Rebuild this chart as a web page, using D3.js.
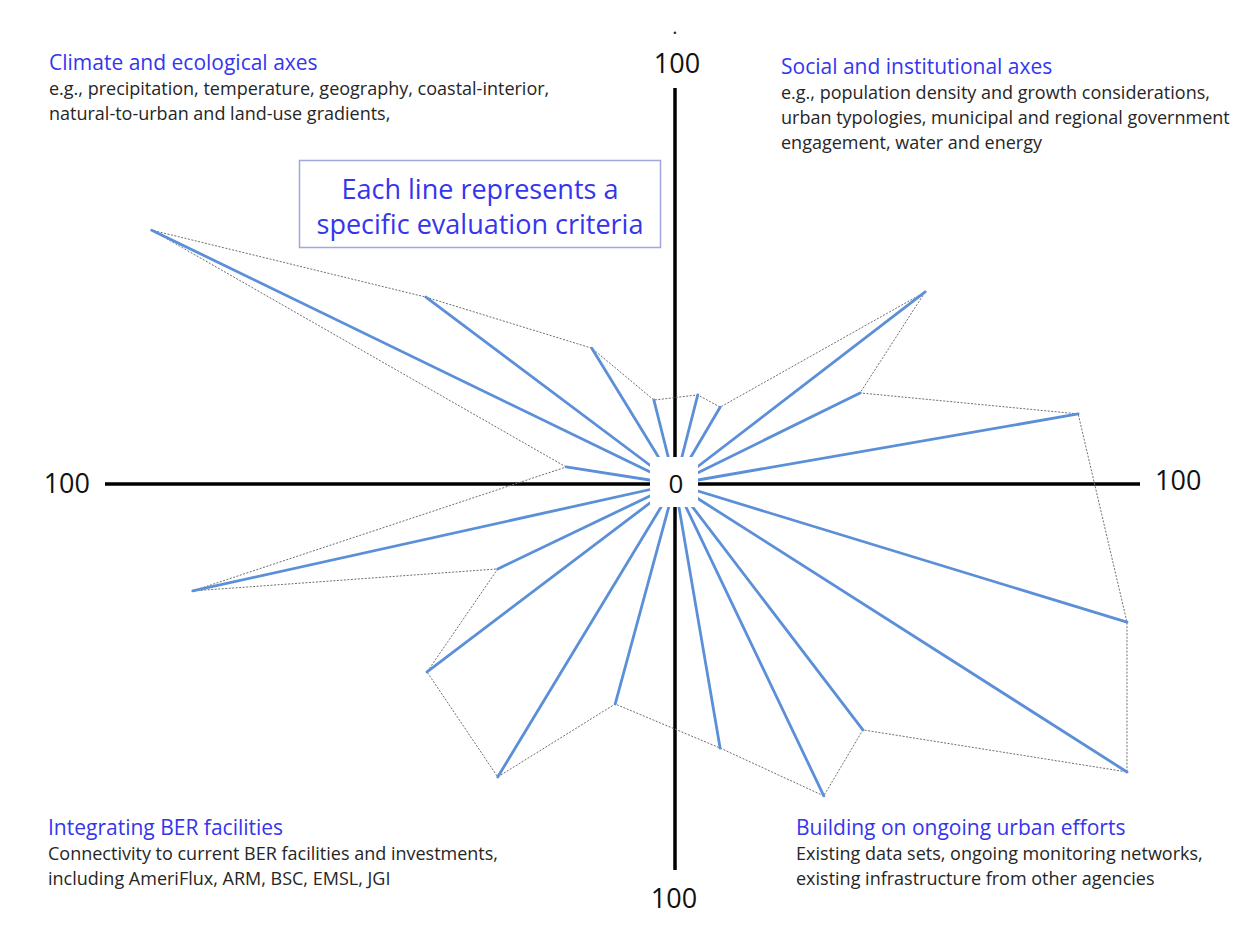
<!DOCTYPE html>
<html>
<head>
<meta charset="utf-8">
<script src="https://cdn.jsdelivr.net/npm/d3@7"></script>
<style>
  body { margin: 0; background: #fff; }
  #spoke-canvas { width: 1235px; height: 937px; }
  text { font-family: 'Open Sans', 'DejaVu Sans', sans-serif; }
</style>
</head>
<body>
<div id="spoke-canvas"></div>
<script>
// each criterion: score along the horizontal and the vertical axis (-100..100)
const horizontalScores = [-19.1, -91.8, -43.7, -14.6, -3.7, 4.9, 9.7, 53.8, 39.8, 86.7,
    97.2, 97.2, 40.4, 32.0, 9.7, -10.5, -31.1, -43.5, -31.1, -84.6]
const verticalScores = [4.3, 64.1, 47.2, 34.3, 21.2, 22.5, 19.4, 48.5, 23.0, 17.7,
    -35.8, -74.6, -63.7, -80.8, -68.4, -57.0, -75.9, -48.7, -22.0, -27.7]

// axis end labels and the center label
const axisEndLabels = ['100', '100', '100', '100']
const centerLabel = '0'

const quadrantTitles = [
    'Climate and ecological axes',
    'Social and institutional axes',
    'Integrating BER facilities',
    'Building on ongoing urban efforts'
]
const quadrantNotes = [
    ['e.g., precipitation, temperature, geography, coastal-interior,',
        'natural-to-urban and land-use gradients,'],
    ['e.g., population density and growth considerations,',
        'urban typologies, municipal and regional government',
        'engagement, water and energy'],
    ['Connectivity to current BER facilities and investments,',
        'including AmeriFlux, ARM, BSC, EMSL, JGI'],
    ['Existing data sets, ongoing monitoring networks,',
        'existing infrastructure from other agencies']
]
const calloutLines = ['Each line represents a', 'specific evaluation criteria']

const width = 1235,
    height = 937

const svg = d3.select('#spoke-canvas')
    .append('svg')
    .attr('width', width)
    .attr('height', height)

// the axes are not symmetric in the original, so use piecewise scales
const x = d3.scaleLinear().domain([-100, 0, 100]).range([105, 675, 1140])
const y = d3.scaleLinear().domain([-100, 0, 100]).range([870, 484, 88])

const blue = '#3535ee'
const spokeBlue = '#5b8fd8'

// Draw the two axes
svg.append('line')
    .attr('x1', x(-100)).attr('x2', x(100))
    .attr('y1', y(0)).attr('y2', y(0))
    .attr('stroke', '#000')
    .attr('stroke-width', 3.5)
svg.append('line')
    .attr('x1', x(0)).attr('x2', x(0))
    .attr('y1', y(100)).attr('y2', y(-100))
    .attr('stroke', '#000')
    .attr('stroke-width', 3.5)

// dotted outline joining the spoke ends
const idx = d3.range(horizontalScores.length)
svg.append('path')
    .datum(idx)
    .attr('fill', 'none')
    .attr('stroke', '#6f6f6f')
    .attr('stroke-width', 1)
    .attr('stroke-dasharray', '2,1.5')
    .attr('d', d3.line()
        .x(function (i) { return x(horizontalScores[i]) })
        .y(function (i) { return y(verticalScores[i]) })
        .curve(d3.curveLinearClosed)
    )

// Add the spokes
svg.selectAll('line.spoke')
    .data(idx)
    .enter()
    .append('line')
    .attr('class', 'spoke')
    .attr('x1', x(0))
    .attr('y1', y(0))
    .attr('x2', function (i) { return x(horizontalScores[i]) })
    .attr('y2', function (i) { return y(verticalScores[i]) })
    .attr('stroke', spokeBlue)
    .attr('stroke-width', 2.8)
    .attr('stroke-linecap', 'round')

// white patch behind the 0
svg.append('rect')
    .attr('x', x(0) - 25)
    .attr('y', y(0) - 27)
    .attr('width', 48)
    .attr('height', 50)
    .attr('fill', '#fff')

svg.append('text')
    .attr('x', x(0) + 1)
    .attr('y', y(0) + 9)
    .attr('text-anchor', 'middle')
    .attr('font-size', 26)
    .attr('fill', '#111')
    .text(centerLabel)

// axis end labels: top, right, bottom, left
const endPos = [
    { x: x(0) + 2, y: y(100) - 15, anchor: 'middle' },
    { x: x(100) + 15, y: y(0) + 6, anchor: 'start' },
    { x: x(0) - 1, y: y(-100) + 38, anchor: 'middle' },
    { x: x(-100) - 15, y: y(0) + 9, anchor: 'end' }
]
svg.selectAll('text.end')
    .data(axisEndLabels)
    .enter()
    .append('text')
    .attr('class', 'end')
    .attr('x', (d, i) => endPos[i].x)
    .attr('y', (d, i) => endPos[i].y)
    .attr('text-anchor', (d, i) => endPos[i].anchor)
    .attr('font-size', 27)
    .attr('fill', '#111')
    .text(d => d)

// stray dot above the top label
svg.append('text')
    .attr('x', x(0))
    .attr('y', 34)
    .attr('text-anchor', 'middle')
    .attr('font-size', 20)
    .attr('fill', '#222')
    .text('.')

// quadrant captions
const captionPos = [[49, 70], [781, 74], [48, 835], [796, 835]]
quadrantTitles.forEach(function (t, i) {
    const g = svg.append('g')
        .attr('transform', 'translate(' + captionPos[i][0] + ',' + captionPos[i][1] + ')')
    g.append('text')
        .attr('font-size', 21)
        .attr('fill', blue)
        .text(t)
    g.selectAll('text.note')
        .data(quadrantNotes[i])
        .enter()
        .append('text')
        .attr('class', 'note')
        .attr('y', (d, j) => 25 + j * 25)
        .attr('font-size', 18)
        .attr('fill', '#262626')
        .text(d => d)
})

// callout box
svg.append('rect')
    .attr('x', 299.5)
    .attr('y', 160.5)
    .attr('width', 361)
    .attr('height', 87)
    .attr('fill', '#fff')
    .attr('stroke', '#a3a6dd')
    .attr('stroke-width', 1.5)
svg.selectAll('text.callout')
    .data(calloutLines)
    .enter()
    .append('text')
    .attr('class', 'callout')
    .attr('x', 480)
    .attr('y', (d, i) => 199 + i * 35)
    .attr('text-anchor', 'middle')
    .attr('font-size', 27)
    .attr('fill', blue)
    .text(d => d)
</script>
</body>
</html>
